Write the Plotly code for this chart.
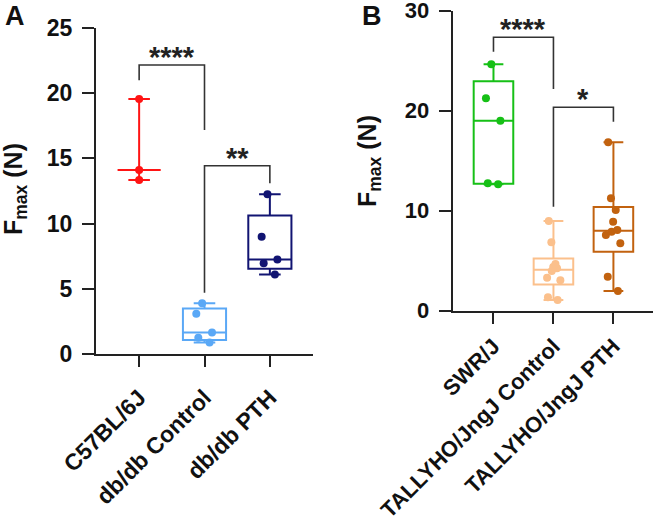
import numpy as np
import plotly.graph_objects as go

# ---------------- data ----------------
a_labels = ["C57BL/6J", "db/db Control", "db/db PTH"]
a_c57 = [19.54, 14.10, 13.33]
a_dbctrl = [3.88, 3.09, 1.65, 1.25, 0.89]
a_dbpth = [12.24, 8.99, 7.25, 6.95, 6.10]

b_labels = ["SWR/J", "TALLYHO/JngJ Control", "TALLYHO/JngJ PTH"]
b_swr = [24.64, 21.24, 19.00, 12.74, 12.64]
b_ctrl = [8.97, 6.84, 4.24, 3.97, 4.67, 4.37, 3.30, 3.04, 1.34, 1.07]
b_pth = [16.84, 11.24, 10.07, 8.90, 8.07, 7.90, 7.57, 6.74, 3.40, 1.97]

a_yticks = [0, 5, 10, 15, 20, 25]
b_yticks = [0, 10, 20, 30]

# significance brackets: (x_left, x_right, y_top, y_left_end, y_right_end, label)
a_brackets = [(0, 1, 22.15, 20.97, 17.16, "****"), (1, 2, 14.43, 4.70, 13.08, "**")]
b_brackets = [(0, 1, 27.34, 25.90, 22.17, "****"), (1, 2, 20.34, 10.40, 18.90, "*")]

# ---------------- style ----------------
FONT = "Liberation Sans"
AXC = "#222222"
a_colors = ["#ff1414", "#5aa8f6", "#111472"]
b_colors = ["#16c016", "#fbc08c", "#c2620f"]

fig = go.Figure()


def add_group(vals, pos, color, xa, ya, range_only=False, jitter=0.45):
    q1, med, q3 = np.percentile(vals, [25, 50, 75], method="weibull")
    if range_only:
        q1 = q3 = med
    fig.add_trace(go.Box(
        x=[pos], q1=[q1], median=[med], q3=[q3],
        lowerfence=[min(vals)], upperfence=[max(vals)],
        width=0.66, whiskerwidth=0.5,
        line=dict(color=color, width=2), fillcolor="rgba(0,0,0,0)",
        boxpoints=False, xaxis=xa, yaxis=ya, showlegend=False, hoverinfo="skip"))
    fig.add_trace(go.Box(
        x=[pos] * len(vals), y=vals, width=0.66,
        boxpoints="all", jitter=jitter, pointpos=0,
        marker=dict(color=color, size=8),
        line=dict(width=0, color="rgba(0,0,0,0)"), fillcolor="rgba(0,0,0,0)",
        xaxis=xa, yaxis=ya, showlegend=False))


add_group(a_c57, 0, a_colors[0], "x", "y", range_only=True, jitter=0)
add_group(a_dbctrl, 1, a_colors[1], "x", "y")
add_group(a_dbpth, 2, a_colors[2], "x", "y")
add_group(b_swr, 0, b_colors[0], "x2", "y2")
add_group(b_ctrl, 1, b_colors[1], "x2", "y2")
add_group(b_pth, 2, b_colors[2], "x2", "y2")

shapes = []
annotations = []
for brs, xr, yr in [(a_brackets, "x", "y"), (b_brackets, "x2", "y2")]:
    for x0, x1, yt, yl, yrr, lab in brs:
        shapes.append(dict(type="path", xref=xr, yref=yr,
                           path=f"M {x0},{yl} L {x0},{yt} L {x1},{yt} L {x1},{yrr}",
                           line=dict(color="#333333", width=1.6)))
        annotations.append(dict(x=(x0 + x1) / 2, y=yt, xref=xr, yref=yr, text=lab,
                                showarrow=False, yanchor="bottom", yshift=-10,
                                font=dict(family=FONT, size=29, color="#222", weight="bold")))

title_font = dict(family=FONT, size=25, color="#111", weight="bold")
annotations += [
    dict(x=15 / 657, y=1 - 189 / 524, xref="paper", yref="paper", text="F<sub>max</sub> (N)",
         textangle=-90, showarrow=False, xanchor="center", yanchor="middle", font=title_font),
    dict(x=369 / 657, y=1 - 161 / 524, xref="paper", yref="paper", text="F<sub>max</sub> (N)",
         textangle=-90, showarrow=False, xanchor="center", yanchor="middle", font=title_font),
    dict(x=15 / 657, y=1 - 16 / 524, xref="paper", yref="paper", text="A",
         showarrow=False, xanchor="center", yanchor="middle",
         font=dict(family=FONT, size=27, color="#111", weight="bold")),
    dict(x=372 / 657, y=1 - 16 / 524, xref="paper", yref="paper", text="B",
         showarrow=False, xanchor="center", yanchor="middle",
         font=dict(family=FONT, size=27, color="#111", weight="bold")),
]

xcommon = dict(showline=True, linewidth=2, linecolor=AXC, ticks="outside", ticklen=11,
               tickwidth=2, tickcolor=AXC, showgrid=False, zeroline=False, tickangle=-45,
               automargin=False, ticklabeloverflow="allow")
ycommon = dict(showline=True, linewidth=2, linecolor=AXC, ticks="outside", ticklen=12,
               tickwidth=2, tickcolor=AXC, showgrid=False, zeroline=False,
               ticklabelstandoff=5, automargin=False, ticklabeloverflow="allow")

fig.update_layout(
    template="none",
    width=657, height=524, margin=dict(l=0, r=0, t=0, b=0, pad=0),
    paper_bgcolor="white", plot_bgcolor="white", boxmode="overlay", showlegend=False,
    xaxis=dict(domain=[96 / 657, 313 / 657], range=[-0.66, 2.66], ticklabelstandoff=8,
               tickvals=[0, 1, 2], ticktext=a_labels, anchor="y",
               tickfont=dict(family=FONT, size=23, color="#111", weight="bold"), **xcommon),
    yaxis=dict(domain=[1 - 354 / 524, 1 - 27.5 / 524], range=[0, 25.02],
               tickvals=a_yticks, anchor="x",
               tickfont=dict(family=FONT, size=23, color="#111", weight="bold"), **ycommon),
    xaxis2=dict(domain=[452.7 / 657, 653 / 657], range=[-0.68, 2.66], ticklabelstandoff=1,
                tickvals=[0, 1, 2], ticktext=b_labels, anchor="y2",
                tickfont=dict(family=FONT, size=22, color="#111", weight="bold"), **xcommon),
    yaxis2=dict(domain=[1 - 310.7 / 524, 1 - 10.5 / 524], range=[0, 30.02],
                tickvals=b_yticks, anchor="x2",
                tickfont=dict(family=FONT, size=22, color="#111", weight="bold"), **ycommon),
    shapes=shapes, annotations=annotations,
)

fig.write_html("out.html", config={"displayModeBar": False},
               post_script="document.body.style.margin='0';")
